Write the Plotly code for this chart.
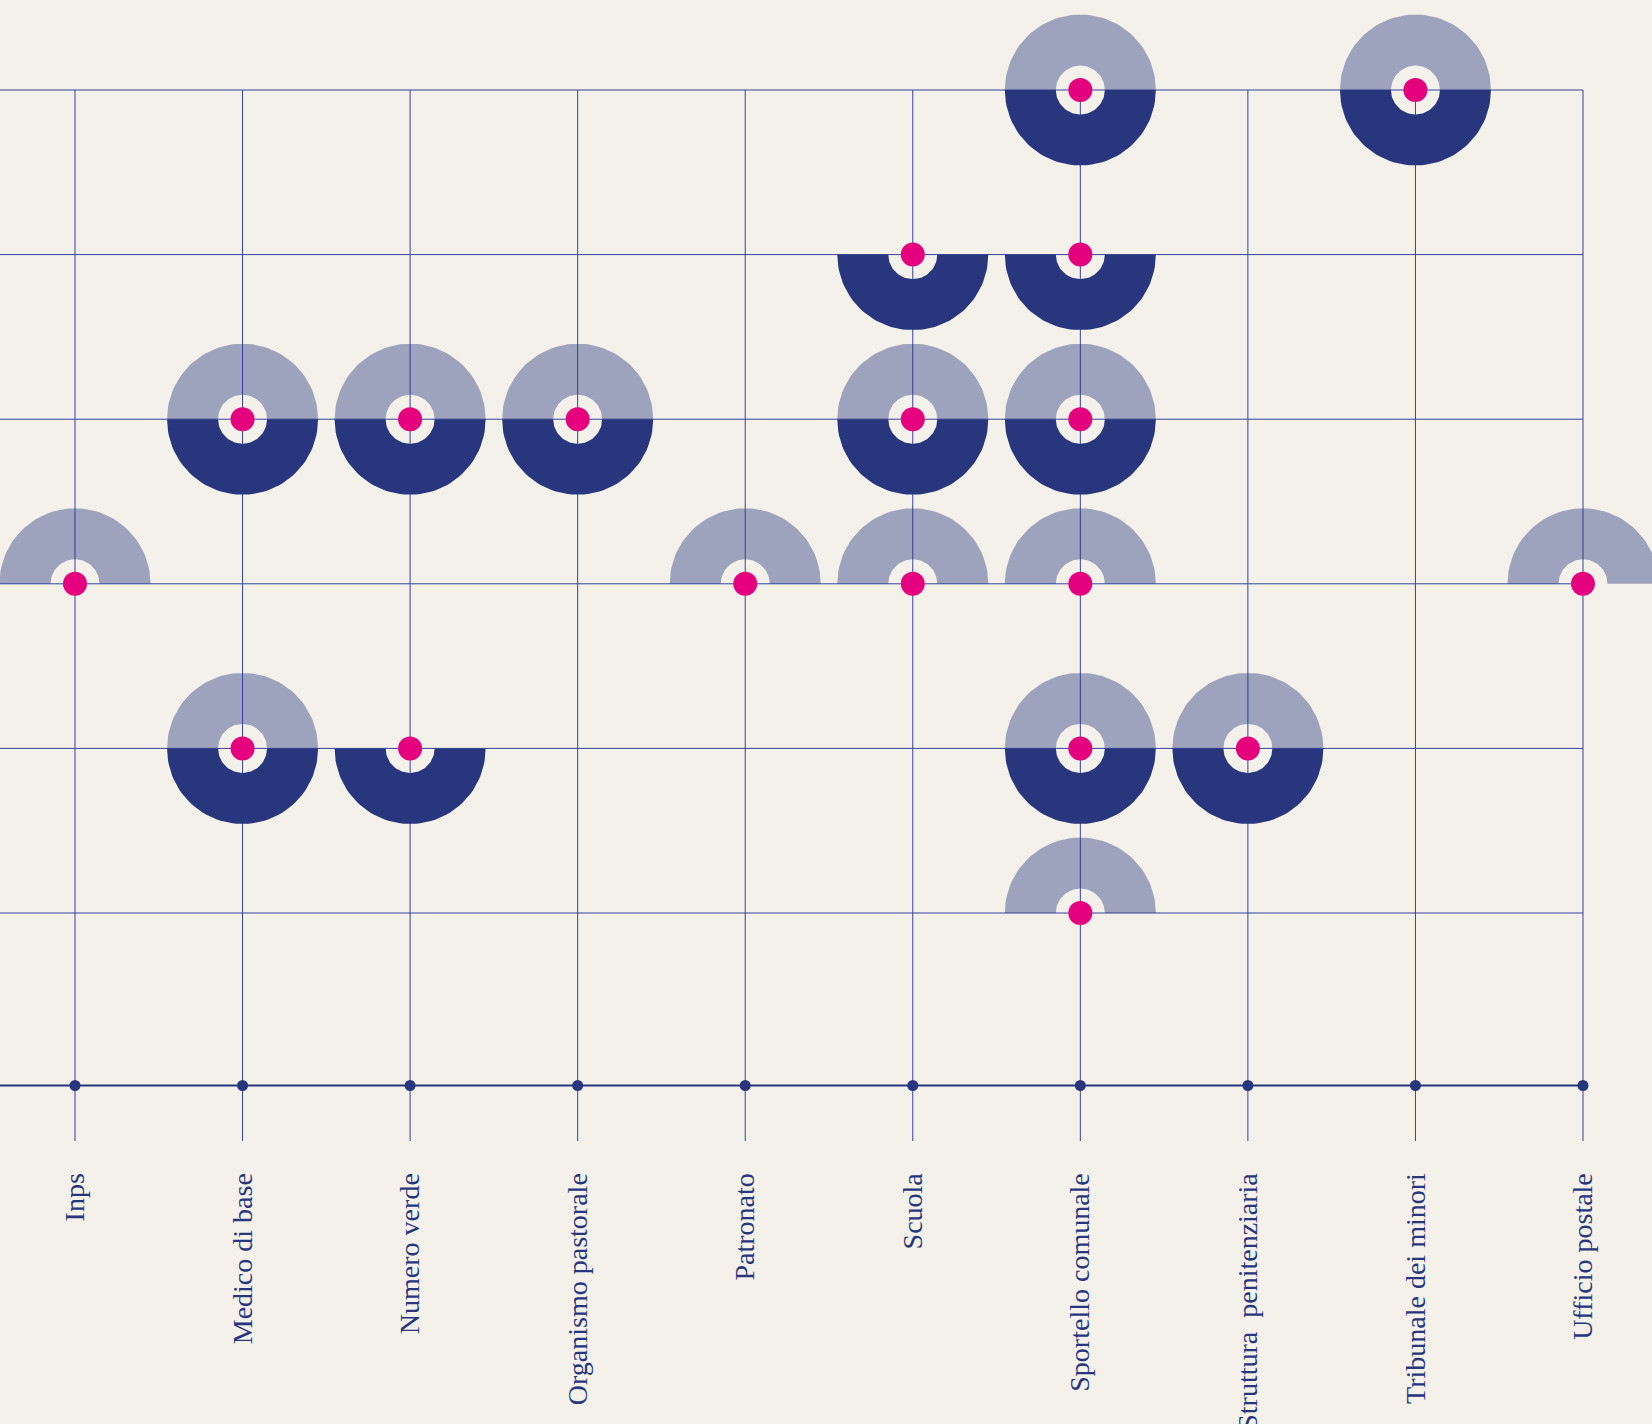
import numpy as np
import plotly.graph_objects as go

# ---------------- data ----------------
categories = ["Inps", "Medico di base", "Numero verde", "Organismo pastorale",
              "Patronato", "Scuola", "Sportello comunale",
              "Struttura  penitenziaria", "Tribunale dei minori", "Ufficio postale"]
levels = [1, 2, 3, 4, 5, 6]

# light (upper) half-rings: category, level
light_cat = ["Inps", "Medico di base", "Medico di base", "Numero verde",
             "Organismo pastorale", "Patronato", "Scuola", "Scuola",
             "Sportello comunale", "Sportello comunale", "Sportello comunale",
             "Sportello comunale", "Sportello comunale",
             "Struttura  penitenziaria", "Tribunale dei minori", "Ufficio postale"]
light_lvl = [3, 4, 2, 4, 4, 3, 4, 3, 6, 4, 3, 2, 1, 2, 6, 3]

# dark (lower) half-rings: category, level
dark_cat = ["Medico di base", "Medico di base", "Numero verde", "Numero verde",
            "Organismo pastorale", "Scuola", "Scuola",
            "Sportello comunale", "Sportello comunale", "Sportello comunale",
            "Sportello comunale", "Struttura  penitenziaria", "Tribunale dei minori"]
dark_lvl = [4, 2, 4, 2, 4, 5, 4, 6, 5, 4, 2, 2, 6]

# ---------------- style ----------------
BG = "#f3f1ea"
NAVY = "#27367d"
LIGHT = "rgba(39,54,125,0.42)"
PINK = "#e5007e"
GRID = "#34439a"

W, H = 1652, 1424
PLOT_H = 1141            # plot area height in px (margin below for labels)
X0_PX, X9_PX = 75, 1583  # px of first / last category
Y6_PX, Y1_PX = 90, 913   # px of top / bottom level
px_x = (X9_PX - X0_PX) / (len(categories) - 1)
px_y = (Y1_PX - Y6_PX) / 5
x_range = [-X0_PX / px_x, (W - X0_PX) / px_x]
y_top = 6 + Y6_PX / px_y
y_bot = 6 - (PLOT_H - Y6_PX) / px_y
BASE = 6 - (1085.5 - Y6_PX) / px_y

R_OUT, R_IN = 75.5, 24.5
idx = {c: i for i, c in enumerate(categories)}


def half_rings(cats, lvls, upper):
    xs, ys = [], []
    if upper:
        th = np.linspace(0, np.pi, 60)
    else:
        th = np.linspace(np.pi, 2 * np.pi, 60)
    for c, l in zip(cats, lvls):
        cx = idx[c]
        ox = cx + R_OUT / px_x * np.cos(th)
        oy = l + R_OUT / px_y * np.sin(th)
        ix = cx + R_IN / px_x * np.cos(th[::-1])
        iy = l + R_IN / px_y * np.sin(th[::-1])
        xs += list(ox) + list(ix) + [ox[0], None]
        ys += list(oy) + list(iy) + [oy[0], None]
    return xs, ys


fig = go.Figure()

# grid: horizontal lines
gx, gy = [], []
for l in levels:
    gx += [x_range[0], len(categories) - 1, None]
    gy += [l, l, None]
# vertical lines
for i in range(len(categories)):
    gx += [i, i, None]
    gy += [max(levels), y_bot, None]
fig.add_trace(go.Scatter(x=gx, y=gy, mode="lines",
                         line=dict(color=GRID, width=1), hoverinfo="skip"))

# light halves
lx, ly = half_rings(light_cat, light_lvl, True)
fig.add_trace(go.Scatter(x=lx, y=ly, mode="lines", fill="toself",
                         fillcolor=LIGHT, line=dict(width=0), hoverinfo="skip"))
# dark halves
dx, dy = half_rings(dark_cat, dark_lvl, False)
fig.add_trace(go.Scatter(x=dx, y=dy, mode="lines", fill="toself",
                         fillcolor=NAVY, line=dict(width=0), hoverinfo="skip"))

# pink centres
pts = sorted(set(zip(light_cat, light_lvl)) | set(zip(dark_cat, dark_lvl)))
fig.add_trace(go.Scatter(x=[idx[c] for c, l in pts], y=[l for c, l in pts],
                         mode="markers",
                         marker=dict(color=PINK, size=24, line=dict(width=0)),
                         hoverinfo="skip"))

# baseline + dots
fig.add_trace(go.Scatter(x=[x_range[0], len(categories) - 1], y=[BASE, BASE],
                         mode="lines", line=dict(color=NAVY, width=2),
                         hoverinfo="skip"))
fig.add_trace(go.Scatter(x=list(range(len(categories))),
                         y=[BASE] * len(categories), mode="markers",
                         marker=dict(color=NAVY, size=11), hoverinfo="skip"))

fig.update_layout(
    width=W, height=H,
    margin=dict(l=0, r=0, t=0, b=H - PLOT_H, pad=0, autoexpand=False),
    paper_bgcolor=BG, plot_bgcolor=BG,
    showlegend=False,
    font=dict(family="Liberation Serif", color=NAVY),
    xaxis=dict(range=x_range, showgrid=False, zeroline=False, showline=False,
               automargin=False,
               tickmode="array", tickvals=list(range(len(categories))),
               ticktext=categories, tickangle=-90,
               ticks="outside", ticklen=20, tickcolor="rgba(0,0,0,0)",
               tickfont=dict(family="Liberation Serif", size=28, color=NAVY)),
    yaxis=dict(range=[y_bot, y_top], showgrid=False, zeroline=False,
               automargin=False,
               showline=False, showticklabels=False, ticks=""),
)

fig.write_html(
    "out.html",
    config={"displayModeBar": False},
    post_script="document.body.style.margin='0';document.body.style.overflow='hidden';",
)
